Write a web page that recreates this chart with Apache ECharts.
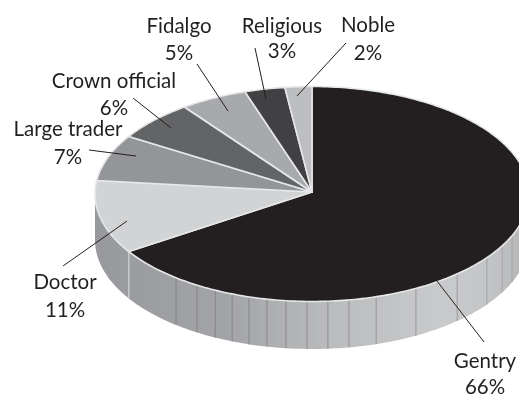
<!DOCTYPE html>
<html>
<head>
<meta charset="utf-8">
<style>html,body{margin:0;padding:0;background:#fff}#chart{width:519px;height:394px}</style>
<script src="https://cdn.jsdelivr.net/npm/echarts@6/dist/echarts.min.js"></script>
</head>
<body>
<div id="chart"></div>
<script>
// Social origin shares, clockwise from twelve o'clock
const categories = ['Gentry', 'Doctor', 'Large trader', 'Crown official', 'Fidalgo', 'Religious', 'Noble'];
const shares = [66, 11, 7, 6, 5, 3, 2];
const sliceColors = ['#231f20', '#d1d3d4', '#939598', '#636466', '#a7a9ac', '#414042', '#bcbec0'];

// Disc projection: top face, lower rim and the slightly raised hub
const disc = { cx: 312, cy: 194, rx: 217, ry: 107.5, hubY: 192, lowerCy: 240, lowerRy: 109 };
// Angles (degrees clockwise from top) where the rim panels meet
const panelSeams = [218.8, 212, 206.5, 201.6, 196.9, 192, 186.9, 181.3, 175.8, 170.2, 162.8, 151.4, 138, 126.3, 118.8, 112.8];

const labelPlaces = [
  { name: [485, 361], pct: [485, 387], from: [437, 281], to: [484, 342] },
  { name: [65, 282], pct: [65, 310], from: [127, 221], to: [63, 266] },
  { name: [68, 129], pct: [68, 157], from: [136, 156], to: [89, 150] },
  { name: [114, 81], pct: [114, 108], from: [171, 128], to: [133, 98] },
  { name: [179, 26], pct: [179, 53], from: [228, 111], to: [197, 64] },
  { name: [282, 26], pct: [282, 51], from: [266, 99], to: [255, 48] },
  { name: [368, 25], pct: [368, 53], from: [297, 96], to: [346, 43] }
];

const total = shares.reduce((a, b) => a + b, 0);
const startAngles = [];
shares.reduce((sum, v, i) => { startAngles[i] = sum / total * 360; return sum + v; }, 0);
const rows = shares.map((v, i) => [v, i]);

const rad = d => d * Math.PI / 180;
const topPoint = a => [disc.cx + disc.rx * Math.sin(rad(a)), disc.cy - disc.ry * Math.cos(rad(a))];
const lowPoint = a => [disc.cx + disc.rx * Math.sin(rad(a)), disc.lowerCy - disc.lowerRy * Math.cos(rad(a))];
const arc = (fn, a0, a1) => {
  const pts = [], n = Math.max(2, Math.ceil(Math.abs(a1 - a0)));
  for (let k = 0; k <= n; k++) pts.push(fn(a0 + (a1 - a0) * k / n));
  return pts;
};

const rimFill = new echarts.graphic.LinearGradient(96, 0, 529, 0, [
  { offset: 0, color: '#98999c' },
  { offset: 0.3, color: '#a3a4a7' },
  { offset: 0.55, color: '#bbbcbe' },
  { offset: 0.8, color: '#c9cacc' },
  { offset: 0.9, color: '#c4c5c7' },
  { offset: 1, color: '#b4b5b7' }
], true);

// Rim wall for the part of a slice that faces the viewer
function renderWall(params, api) {
  const i = api.value(1);
  const a0 = startAngles[i];
  const a1 = a0 + api.value(0) / total * 360;
  const from = Math.max(a0, 90), to = Math.min(a1, 270);
  if (to <= from) return { type: 'group', children: [] };
  const children = [{
    type: 'polygon',
    shape: { points: arc(topPoint, from, to).concat(arc(lowPoint, to, from)) },
    style: { fill: rimFill, stroke: null }
  }];
  panelSeams.filter(s => s > from && s < to).forEach(s => {
    const t = (s - 90) / 130;
    const shade = Math.round(0xae - t * 0x2e);
    children.push({
      type: 'line',
      shape: { x1: topPoint(s)[0], y1: topPoint(s)[1], x2: lowPoint(s)[0], y2: lowPoint(s)[1] },
      style: { stroke: `rgb(${shade},${shade},${shade + 2})`, lineWidth: 1 }
    });
  });
  if (a0 > 90 && a0 < 270) {
    const p = topPoint(a0), q = lowPoint(a0);
    children.push({
      type: 'line',
      shape: { x1: p[0], y1: p[1], x2: q[0], y2: q[1] },
      style: { stroke: '#c8c9cb', lineWidth: 1.5 }
    });
  }
  return { type: 'group', children };
}

// Top face of a slice
function renderFace(params, api) {
  const i = api.value(1);
  const a0 = startAngles[i];
  const a1 = a0 + api.value(0) / total * 360;
  return {
    type: 'polygon',
    shape: { points: [[disc.cx, disc.hubY]].concat(arc(topPoint, a0, a1)) },
    style: { fill: sliceColors[i], stroke: '#e6e7e8', lineWidth: 1.6, lineJoin: 'round' }
  };
}

const textStyle = { fontFamily: 'Lato, Carlito, sans-serif', fontSize: 20.5, fill: '#231f20', align: 'center', verticalAlign: 'middle' };

// Category name, percentage and leader line
function renderLabel(params, api) {
  const i = api.value(1);
  const p = labelPlaces[i];
  return {
    type: 'group',
    children: [
      { type: 'line', shape: { x1: p.from[0], y1: p.from[1], x2: p.to[0], y2: p.to[1] }, style: { stroke: '#231f20', lineWidth: 1 } },
      { type: 'text', style: Object.assign({ text: categories[i], x: p.name[0], y: p.name[1] }, textStyle) },
      { type: 'text', style: Object.assign({ text: api.value(0) + '%', x: p.pct[0], y: p.pct[1] }, textStyle) }
    ]
  };
}

const chart = echarts.init(document.getElementById('chart'), null, { renderer: 'canvas' });
chart.setOption({
  animation: false,
  backgroundColor: '#ffffff',
  series: [
    { type: 'custom', coordinateSystem: 'none', silent: true, z: 1, data: rows, renderItem: renderWall },
    { type: 'custom', coordinateSystem: 'none', silent: true, z: 2, data: rows, renderItem: renderFace },
    { type: 'custom', coordinateSystem: 'none', silent: true, z: 3, data: rows, renderItem: renderLabel }
  ]
});
</script>
</body>
</html>
